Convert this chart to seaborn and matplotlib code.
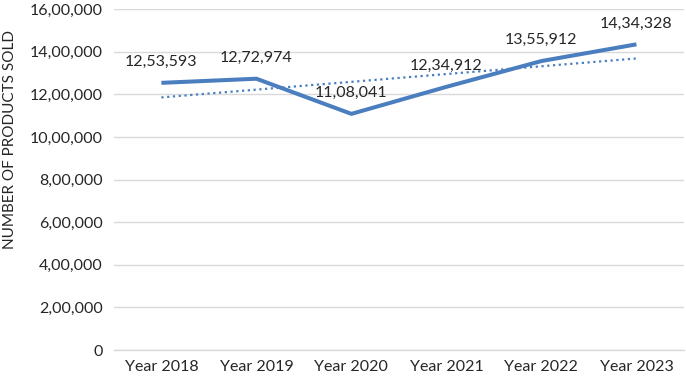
import numpy as np
import pandas as pd
import seaborn as sns
import matplotlib.pyplot as plt
from matplotlib.ticker import FuncFormatter, FixedLocator

years = ['Year 2018', 'Year 2019', 'Year 2020', 'Year 2021', 'Year 2022', 'Year 2023']
products_sold = [1253593, 1272974, 1108041, 1234912, 1355912, 1434328]


def indian_format(v):
    # Indian digit grouping: 12,53,593
    s = str(int(round(v)))
    if len(s) <= 3:
        return s
    head, tail = s[:-3], s[-3:]
    groups = []
    while len(head) > 2:
        groups.insert(0, head[-2:])
        head = head[:-2]
    if head:
        groups.insert(0, head)
    return ','.join(groups) + ',' + tail


df = pd.DataFrame({'year': years, 'sold': products_sold})
df['idx'] = np.arange(len(years))

# linear trendline like Excel
slope, intercept = np.polyfit(df['idx'], df['sold'], 1)
df['trend'] = intercept + slope * df['idx']

sns.set_style('white')
plt.rcParams['font.family'] = ['Lato', 'DejaVu Sans']

line_color = '#4A7EBF'
text_color = '#262626'

fig = plt.figure(figsize=(6.86, 3.84), dpi=100)
ax = fig.add_axes([0.166, 0.0885, 0.831, 0.888])

sns.lineplot(data=df, x='idx', y='trend', ax=ax, color=line_color,
             linewidth=1.6, linestyle=(0, (1, 1.6)))
sns.lineplot(data=df, x='idx', y='sold', ax=ax, color=line_color,
             linewidth=2.9, solid_joinstyle='round', solid_capstyle='butt')

for i, v in zip(df['idx'], df['sold']):
    ax.annotate(indian_format(v), (i, v), xytext=(0, 10), textcoords='offset points',
                ha='center', va='bottom', fontsize=11.5, color=text_color)

ax.set_xlim(-0.5, len(years) - 0.5)
ax.set_ylim(0, 1600000)
ax.set_yticks(np.arange(0, 1600001, 200000))
ax.yaxis.set_major_formatter(FuncFormatter(lambda v, p: indian_format(v)))
ax.set_xticks(df['idx'])
ax.set_xticklabels(years)
ax.xaxis.set_minor_locator(FixedLocator(np.arange(-0.5, len(years), 1.0)))

ax.grid(axis='y', color='#D9D9D9', linewidth=1)
ax.set_axisbelow(True)
for side in ['top', 'right', 'left']:
    ax.spines[side].set_visible(False)
ax.spines['bottom'].set_color('#D9D9D9')
ax.spines['bottom'].set_linewidth(1)

ax.tick_params(axis='x', which='major', length=0, pad=7, labelsize=11.5, labelcolor=text_color)
ax.tick_params(axis='x', which='minor', length=4, color='#D9D9D9', width=1)
ax.tick_params(axis='y', length=0, pad=8, labelsize=11.5, labelcolor=text_color)

ax.set_xlabel('')
ax.set_ylabel('NUMBER OF PRODUCTS SOLD', fontsize=11, color=text_color)
ax.yaxis.set_label_coords(-0.17, 0.616)

fig.savefig('out.png', dpi=100)
